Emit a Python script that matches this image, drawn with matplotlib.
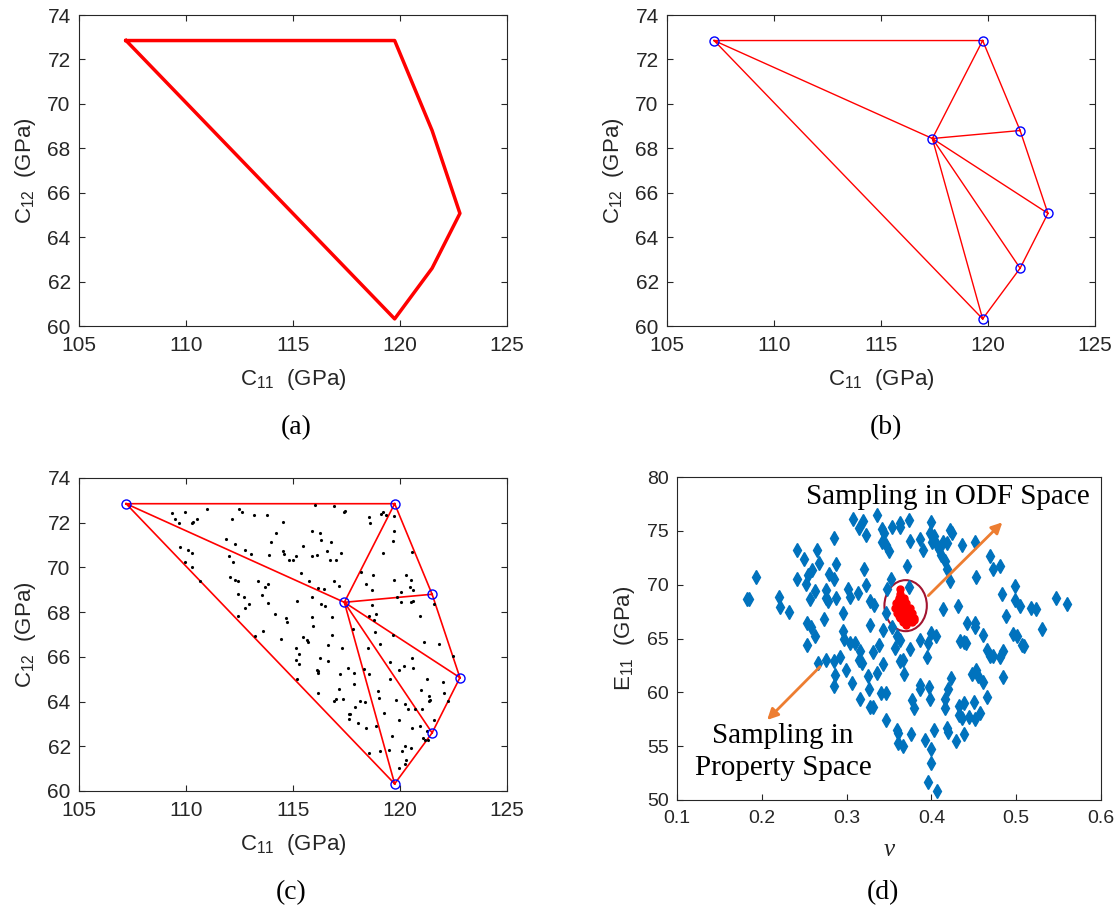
import matplotlib.pyplot as plt
from matplotlib.patches import Ellipse

plt.rcParams['font.family'] = ['Liberation Sans', 'DejaVu Sans']
plt.rcParams['mathtext.default'] = 'regular'

# vertices of the admissible (C11, C12) region; the last one is the interior node
c11_vert = [107.2, 119.75, 121.5, 122.8, 121.5, 119.75, 117.4]
c12_vert = [72.85, 72.85, 68.8, 65.07, 62.6, 60.32, 68.44]
hull_order = [0, 1, 2, 3, 4, 5, 0]
tri_cells = [[0, 1, 6], [0, 6, 5], [1, 2, 6], [6, 2, 3], [6, 3, 4], [6, 4, 5]]

# uniform samples inside the triangulated region
c11_samples = [
    109.36, 109.94, 110.97, 109.49, 109.67, 110.30, 110.34, 110.50, 112.48, 112.62,
    113.16, 113.79, 112.13, 114.52, 114.22, 113.96, 116.01, 116.92, 117.41, 117.38,
    118.55, 119.10, 119.22, 119.36, 118.61, 119.73, 119.72, 119.67, 115.90, 116.25,
    116.32, 116.79, 115.45, 116.57, 117.23, 115.89, 116.14, 116.71, 116.99, 111.85,
    112.29, 112.77, 113.02, 114.55, 114.58, 113.88, 114.81, 115.00, 115.13, 109.72,
    110.09, 110.26, 109.95, 110.26, 110.67, 112.03, 112.20, 112.04, 112.31, 112.43,
    113.37, 113.69, 113.83, 113.57, 112.43, 112.71, 112.96, 112.74, 112.43, 113.85,
    114.16, 114.69, 114.72, 115.17, 115.36, 115.76, 116.15, 116.45, 116.92, 117.13,
    115.90, 118.16, 118.74, 118.40, 118.68, 119.21, 119.74, 120.30, 120.50, 120.47,
    120.61, 120.06, 119.88, 120.05, 120.50, 120.61, 120.56, 116.31, 116.51, 115.89,
    115.95, 116.81, 118.69, 118.55, 118.89, 118.77, 117.82, 118.83, 119.67, 120.94,
    121.12, 121.82, 121.60, 113.21, 113.61, 114.44, 115.48, 115.65, 115.69, 116.65,
    116.82, 117.27, 118.51, 119.05, 115.16, 115.28, 115.14, 115.27, 116.28, 116.65,
    116.11, 116.18, 116.15, 117.57, 118.32, 118.57, 117.18, 117.87, 115.17, 116.17,
    117.13, 117.83, 119.52, 119.97, 120.17, 120.62, 120.56, 122.48, 121.26, 121.99,
    122.24, 122.06, 116.92, 117.00, 117.32, 117.60, 117.66, 117.62, 117.88, 118.12,
    118.36, 118.04, 118.41, 118.88, 119.02, 118.99, 119.24, 119.52, 119.80, 119.95,
    120.25, 120.37, 120.70, 121.01, 120.97, 121.34, 121.34, 121.39, 120.95, 121.57,
    120.56, 121.25, 121.08, 121.15, 121.29, 119.61, 120.23, 120.51, 120.11, 119.49,
    119.05, 118.55, 120.26, 119.97, 120.25,
]
c12_samples = [
    72.42, 72.49, 72.62, 72.16, 71.97, 71.97, 72.03, 72.16, 72.60, 72.49,
    72.33, 72.36, 72.18, 72.03, 71.53, 71.14, 72.80, 72.73, 72.54, 72.48,
    72.24, 72.39, 72.48, 72.36, 71.97, 72.31, 71.65, 71.19, 71.61, 71.53,
    71.24, 71.13, 70.97, 70.73, 70.65, 70.50, 70.55, 70.31, 70.34, 71.27,
    71.07, 70.76, 70.62, 70.74, 70.59, 70.56, 70.34, 70.31, 70.50, 70.91,
    70.79, 70.64, 70.25, 70.04, 69.40, 70.49, 70.25, 69.55, 69.44, 69.41,
    69.40, 69.14, 69.25, 68.78, 68.80, 68.66, 68.35, 68.19, 67.84, 68.39,
    67.92, 67.74, 67.54, 68.48, 69.73, 69.38, 69.10, 69.04, 69.41, 69.19,
    68.69, 69.81, 69.64, 69.26, 68.99, 70.64, 69.44, 69.68, 69.44, 69.14,
    68.99, 68.92, 68.69, 68.44, 68.44, 68.50, 70.70, 68.35, 68.29, 67.78,
    67.39, 67.80, 68.32, 67.84, 67.90, 67.63, 67.24, 67.12, 67.00, 67.83,
    66.65, 66.59, 68.36, 66.93, 67.14, 66.82, 66.90, 66.75, 66.68, 66.54,
    66.96, 66.41, 66.38, 66.59, 66.38, 66.14, 65.85, 65.69, 65.94, 65.81,
    65.41, 65.35, 65.27, 65.51, 65.45, 65.24, 65.23, 65.26, 65.02, 64.40,
    64.58, 64.78, 65.79, 65.43, 65.61, 65.51, 65.97, 66.05, 65.02, 64.88,
    64.04, 64.40, 64.03, 64.12, 64.13, 63.45, 63.46, 63.24, 63.75, 64.01,
    63.97, 63.04, 62.82, 62.92, 64.15, 64.48, 63.51, 64.99, 64.09, 63.19,
    63.89, 63.66, 63.66, 63.67, 64.51, 64.25, 64.03, 64.07, 62.92, 63.19,
    62.83, 62.68, 62.39, 62.30, 62.27, 62.45, 62.00, 61.92, 61.77, 61.82,
    61.77, 61.68, 61.40, 61.01, 61.22,
]

# (nu, E11) of microstructures sampled in property space
nu_prop = [
    0.307, 0.319, 0.315, 0.323, 0.336, 0.342, 0.344, 0.342, 0.346, 0.350,
    0.353, 0.363, 0.363, 0.374, 0.375, 0.387, 0.390, 0.399, 0.398, 0.403,
    0.401, 0.407, 0.409, 0.411, 0.414, 0.418, 0.422, 0.424, 0.436, 0.452,
    0.416, 0.418, 0.422, 0.469, 0.473, 0.481, 0.453, 0.371, 0.352, 0.348,
    0.285, 0.241, 0.265, 0.250, 0.268, 0.288, 0.320, 0.193, 0.241, 0.252,
    0.255, 0.259, 0.279, 0.285, 0.263, 0.276, 0.278, 0.276, 0.287, 0.257,
    0.220, 0.222, 0.232, 0.182, 0.185, 0.302, 0.304, 0.314, 0.323, 0.328,
    0.332, 0.296, 0.273, 0.253, 0.258, 0.263, 0.253, 0.296, 0.297, 0.304,
    0.310, 0.328, 0.343, 0.353, 0.359, 0.363, 0.357, 0.338, 0.316, 0.315,
    0.318, 0.331, 0.375, 0.386, 0.396, 0.395, 0.400, 0.405, 0.363, 0.367,
    0.368, 0.343, 0.336, 0.325, 0.306, 0.299, 0.286, 0.285, 0.285, 0.292,
    0.276, 0.266, 0.316, 0.328, 0.331, 0.326, 0.340, 0.346, 0.347, 0.359,
    0.361, 0.376, 0.361, 0.367, 0.377, 0.379, 0.386, 0.386, 0.397, 0.398,
    0.393, 0.399, 0.403, 0.399, 0.396, 0.407, 0.416, 0.416, 0.418, 0.419,
    0.429, 0.438, 0.420, 0.423, 0.432, 0.433, 0.438, 0.436, 0.444, 0.450,
    0.451, 0.457, 0.448, 0.453, 0.455, 0.461, 0.466, 0.465, 0.469, 0.473,
    0.481, 0.485, 0.484, 0.461, 0.442, 0.451, 0.452, 0.438, 0.441, 0.434,
    0.483, 0.499, 0.499, 0.504, 0.517, 0.523, 0.488, 0.496, 0.501, 0.507,
    0.509, 0.531, 0.547, 0.560, 0.431, 0.414, 0.373, 0.346,
]
e11_prop = [
    76.1, 75.9, 75.3, 74.6, 76.5, 75.2, 74.8, 74.0, 73.7, 73.1,
    75.4, 75.7, 75.4, 76.0, 74.1, 74.2, 73.2, 75.8, 74.8, 74.5,
    74.0, 73.7, 73.3, 72.8, 74.0, 73.9, 75.1, 74.8, 73.7, 74.0,
    72.2, 71.5, 70.3, 72.7, 71.5, 71.7, 70.7, 71.7, 70.5, 69.6,
    74.3, 73.2, 73.2, 72.4, 72.0, 71.9, 71.5, 70.7, 70.5, 70.1,
    70.9, 71.4, 71.0, 70.5, 69.4, 69.5, 68.5, 68.8, 68.8, 68.7,
    68.9, 67.9, 67.5, 68.7, 68.7, 69.6, 68.9, 69.2, 70.0, 68.5,
    68.1, 67.4, 66.8, 66.4, 66.1, 65.2, 64.4, 65.7, 65.0, 64.6,
    64.6, 66.3, 65.8, 66.1, 65.2, 64.9, 64.1, 64.4, 63.8, 63.0,
    62.7, 63.7, 64.0, 64.9, 64.6, 63.3, 65.5, 65.2, 62.9, 63.0,
    61.7, 62.6, 61.8, 61.5, 60.9, 62.1, 61.6, 60.6, 62.9, 63.3,
    63.0, 62.7, 59.4, 58.6, 58.6, 60.3, 59.9, 59.9, 57.4, 56.5,
    56.2, 56.1, 55.3, 55.0, 59.3, 58.5, 60.7, 60.3, 60.5, 59.4,
    55.6, 54.7, 56.5, 53.4, 51.7, 50.8, 59.4, 58.5, 56.7, 56.3,
    55.5, 56.1, 60.3, 61.3, 58.7, 57.9, 59.0, 57.6, 57.7, 59.1,
    57.5, 58.1, 61.7, 62.1, 61.5, 61.0, 59.6, 63.9, 63.4, 63.4,
    63.3, 63.8, 61.4, 65.3, 66.4, 66.4, 66.1, 64.7, 64.6, 64.8,
    69.1, 69.9, 68.6, 68.0, 67.8, 67.7, 67.1, 65.4, 65.2, 64.4,
    64.3, 65.9, 68.8, 68.2, 68.05, 67.7, 69.8, 67.4,
]

# (nu, E11) of microstructures sampled in ODF space
nu_odf = [
    0.3625, 0.3633, 0.3613, 0.3672, 0.3586, 0.3645, 0.3704, 0.3574, 0.3633, 0.3692,
    0.3743, 0.3594, 0.3653, 0.3712, 0.3771, 0.3625, 0.3684, 0.3743, 0.3798, 0.3664,
    0.3723, 0.3775, 0.3704, 0.3602, 0.3680, 0.3751, 0.3613, 0.3672, 0.3731, 0.3790,
]
e11_odf = [
    69.63, 69.17, 68.76, 68.76, 68.30, 68.30, 68.30, 67.84, 67.84, 67.84,
    67.84, 67.37, 67.37, 67.37, 67.37, 66.91, 66.91, 66.91, 66.91, 66.50,
    66.50, 66.50, 66.29, 68.45, 68.55, 67.12, 67.12, 67.62, 67.62, 66.69,
]

GREY = '#262626'
W, H = 1120, 917


def px_axes(left, top, right, bottom):
    return fig.add_axes([left / W, 1 - bottom / H, (right - left) / W, (bottom - top) / H])


def style_axes(ax):
    ax.tick_params(direction='in', length=4, width=0.8, colors=GREY)
    ax.tick_params(axis='x', pad=7.5)
    ax.tick_params(axis='y', pad=6)
    for s in ax.spines.values():
        s.set_color(GREY)
        s.set_linewidth(0.8)


def style_c_axes(ax):
    ax.set_xlim(105, 125)
    ax.set_ylim(60, 74)
    ax.set_xticks(range(105, 126, 5))
    ax.set_yticks(range(60, 75, 2))
    style_axes(ax)
    ax.tick_params(top=True, right=True, labelsize=15)
    ax.set_xlabel('C$_{11}$  (GPa)', fontsize=16, color=GREY, labelpad=8)
    ax.set_ylabel('C$_{12}$  (GPa)', fontsize=16, color=GREY, labelpad=7)


fig = plt.figure(figsize=(11.2, 9.17), dpi=100)

# (a) convex hull
ax_a = px_axes(79, 15, 507, 326)
ax_a.plot([c11_vert[i] for i in hull_order], [c12_vert[i] for i in hull_order],
          color='red', lw=2.5)
style_c_axes(ax_a)

# (b) triangulation of the hull
ax_b = px_axes(667, 15, 1095, 326)
ax_b.triplot(c11_vert, c12_vert, tri_cells, color='red', lw=1)
ax_b.plot(c11_vert, c12_vert, 'o', mfc='none', mec='blue', ms=6.5, mew=1)
style_c_axes(ax_b)

# (c) triangulation with samples
ax_c = px_axes(79, 478, 507, 791)
ax_c.triplot(c11_vert, c12_vert, tri_cells, color='red', lw=1.2)
ax_c.plot(c11_samples, c12_samples, '.', color='black', ms=2.5)
ax_c.plot(c11_vert, c12_vert, 'o', mfc='none', mec='blue', ms=6.5, mew=1)
style_c_axes(ax_c)

# (d) property space vs ODF space sampling
ax_d = px_axes(677, 477, 1101, 800)
ax_d.plot(nu_prop, e11_prop, 'd', color='#0072BD', ms=7.5, ls='none')
ax_d.plot(nu_odf, e11_odf, 'o', color='red', ms=5, ls='none')
ax_d.add_patch(Ellipse((0.3696, 68.05), 0.05, 4.74, fill=False, ec='#A2142F', lw=1.5))
arrow_kw = dict(arrowstyle='-|>', color='#ED7D31', lw=2, mutation_scale=16)
ax_d.annotate('', xy=(0.486, 75.97), xytext=(0.394, 68.8), arrowprops=arrow_kw)
ax_d.annotate('', xy=(0.204, 57.25), xytext=(0.271, 62.57), arrowprops=arrow_kw)
ax_d.text(0.42, 78.1, 'Sampling in ODF Space', family='Liberation Serif', fontsize=21,
          ha='center', va='center')
ax_d.text(0.225, 54.45, 'Sampling in\nProperty Space', family='Liberation Serif',
          fontsize=21, ha='center', va='center', multialignment='center', linespacing=1.3)
ax_d.set_xlim(0.1, 0.6)
ax_d.set_ylim(50, 80)
ax_d.set_xticks([0.1, 0.2, 0.3, 0.4, 0.5, 0.6])
ax_d.set_yticks(range(50, 81, 5))
style_axes(ax_d)
ax_d.tick_params(labelsize=14)
ax_d.set_xlabel('ν', fontsize=18, color=GREY, family='Liberation Serif', style='italic',
                labelpad=8)
ax_d.set_ylabel('E$_{11}$  (GPa)', fontsize=16, color=GREY, labelpad=7)

for label, x, y in [('(a)', 296, 428), ('(b)', 886, 428), ('(c)', 291, 893), ('(d)', 883, 893)]:
    fig.text(x / W, 1 - y / H, label, family='Liberation Serif', fontsize=20,
             ha='center', va='center')

fig.savefig('out.png', dpi=100)
